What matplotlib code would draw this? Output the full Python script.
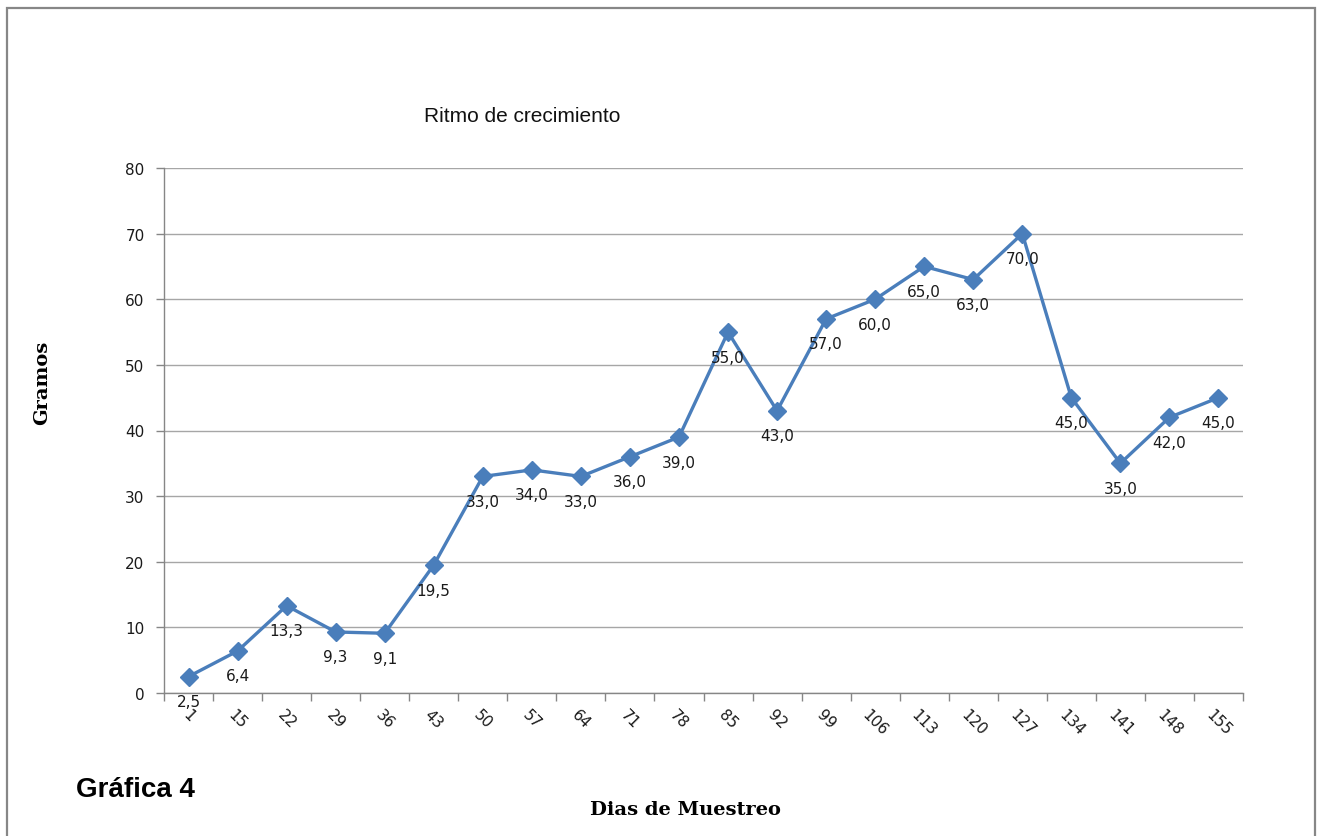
import matplotlib
matplotlib.use("Agg")
import matplotlib.pyplot as plt
from matplotlib.patches import Rectangle
import numpy as np

# Sampling days and measured weights (grams)
dias = ["1", "15", "22", "29", "36", "43", "50", "57", "64", "71", "78",
        "85", "92", "99", "106", "113", "120", "127", "134", "141", "148", "155"]
gramos = [2.5, 6.4, 13.3, 9.3, 9.1, 19.5, 33.0, 34.0, 33.0, 36.0, 39.0,
          55.0, 43.0, 57.0, 60.0, 65.0, 63.0, 70.0, 45.0, 35.0, 42.0, 45.0]
y_ticks = [0, 10, 20, 30, 40, 50, 60, 70, 80]

W, H = 1319, 837
fig = plt.figure(figsize=(W / 100, H / 100), dpi=100)
fig.patch.set_facecolor("white")

# outer frame of the chart area
fig.patches.append(Rectangle((7 / W, -0.05), (1315 - 7) / W, (H - 9) / H + 0.05,
                             transform=fig.transFigure, fill=False,
                             edgecolor="#878787", linewidth=1.6, zorder=0))

left, right, top, bottom = 164, 1243, 169, 694
ax = fig.add_axes([left / W, (H - bottom) / H, (right - left) / W, (bottom - top) / H])

x = np.arange(len(dias))
ax.plot(x, gramos, color="#4A7EBB", linewidth=2.4, marker="D", markersize=9.5,
        markerfacecolor="#4A7EBB", markeredgecolor="#4A7EBB", zorder=3, clip_on=False)

for xi, v in zip(x, gramos):
    ax.annotate(f"{v:.1f}".replace(".", ","), (xi, v), xytext=(0, -18),
                textcoords="offset points", ha="center", va="center",
                fontsize=11, color="#1a1a1a", family="DejaVu Sans", zorder=4)

ax.set_xlim(-0.5, len(dias) - 0.5)
ax.set_ylim(0, 80)
ax.set_yticks(y_ticks)
ax.set_yticklabels([str(t) for t in y_ticks], fontsize=11, color="#1a1a1a")
ax.yaxis.grid(True, color="#A6A6A6", linewidth=1.0)
ax.set_axisbelow(True)

ax.set_xticks(x)
ax.set_xticklabels(dias, rotation=-45, ha="center", va="top", fontsize=11,
                   color="#1a1a1a")
ax.tick_params(axis="x", which="major", length=0, pad=10)
ax.set_xticks(np.arange(-0.5, len(dias), 1.0), minor=True)
ax.tick_params(axis="x", which="minor", length=6, color="#868686", width=1.0)
ax.tick_params(axis="y", length=6, color="#868686", width=1.0, pad=8)

for s in ["top", "right"]:
    ax.spines[s].set_visible(False)
for s in ["left", "bottom"]:
    ax.spines[s].set_color("#868686")
    ax.spines[s].set_linewidth(1.0)

fig.text(522 / W, 1 - 117 / H, "Ritmo de crecimiento", ha="center", va="center",
         fontsize=15, family="Liberation Sans", color="#111111")
fig.text(76 / W, 1 - 790 / H, "Gráfica 4", ha="left", va="center",
         fontsize=20, family="Liberation Sans", fontweight="bold", color="#000000")
fig.text(685 / W, 1 - 810 / H, "Dias de Muestreo", ha="center", va="center",
         fontsize=14, family="DejaVu Serif", fontweight="bold", color="#000000")
fig.text(42 / W, 1 - 383 / H, "Gramos", ha="center", va="center", rotation=90,
         fontsize=14, family="DejaVu Serif", fontweight="bold", color="#000000")

fig.savefig("out.png", dpi=100, facecolor="white")
